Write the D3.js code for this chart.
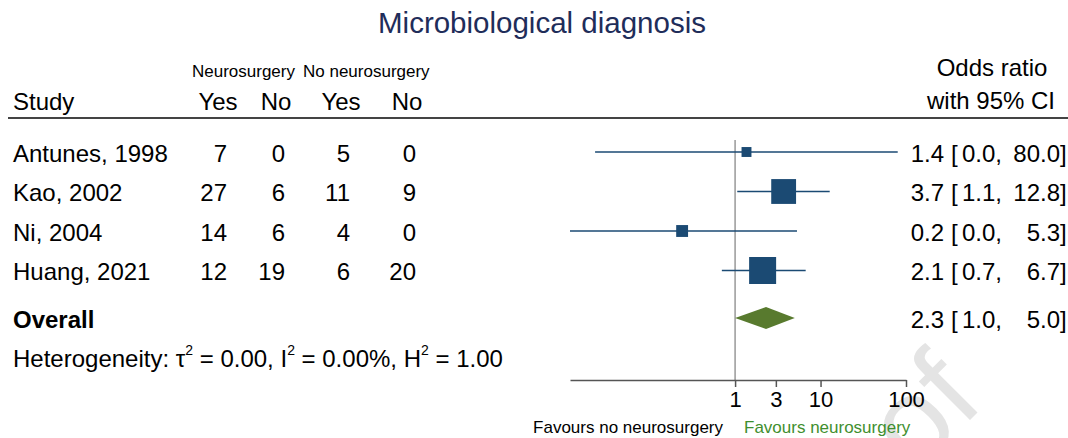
<!DOCTYPE html>
<html>
<head>
<meta charset="utf-8">
<script src="https://cdn.jsdelivr.net/npm/d3@7"></script>
<style>
  body { margin: 0; background: #fff; }
  svg { display: block; font-family: 'Liberation Sans', Arial, sans-serif; }
</style>
</head>
<body>
<svg></svg>
<script>
const width = 1068
const height = 438

// data
const studies = ['Antunes, 1998', 'Kao, 2002', 'Ni, 2004', 'Huang, 2021']
const neuroYes = [7, 27, 14, 12]
const neuroNo = [0, 6, 6, 19]
const noNeuroYes = [5, 11, 4, 6]
const noNeuroNo = [0, 9, 0, 20]
const oddsRatio = [1.36, 3.7, 0.24, 2.1]
const ciLow = [0.023, 1.06, 0.0117, 0.7]
const ciHigh = [80.0, 12.8, 5.3, 6.7]
const weights = [6.2, 38.9, 8.9, 46.0]
const overall = { or: 2.3, lo: 1.0, hi: 5.0 }
const axisTicks = [1, 3, 10, 100]

const navy = '#1b4a73'
const green = '#587a2e'
const fs = 24

const svg = d3.select('svg').attr('width', width).attr('height', height)

svg.append('rect').attr('width', width).attr('height', height).attr('fill', '#fff')

// watermark
svg
  .append('text')
  .attr('transform', 'translate(986,404) rotate(-45)')
  .attr('text-anchor', 'end')
  .attr('font-size', 120)
  .attr('fill', '#e4e4e4')
  .text('Proof')

const x = d3.scaleLog().domain([0.0117, 100]).range([570, 906])
const size = d3.scaleSqrt().domain([0, 46]).range([0, 27])
const rowY = d3.scaleLinear().domain([0, 1]).range([152, 191.5])
const textY = (i) => rowY(i) + 9.5

// title
svg
  .append('text')
  .attr('x', 542)
  .attr('y', 33)
  .attr('text-anchor', 'middle')
  .attr('font-size', 29.5)
  .attr('fill', '#1f2d5a')
  .text('Microbiological diagnosis')

// headers
svg.append('text').attr('x', 192).attr('y', 77).attr('font-size', 17).text('Neurosurgery')
svg.append('text').attr('x', 303).attr('y', 77).attr('font-size', 17).text('No neurosurgery')
svg.append('text').attr('x', 13).attr('y', 110).attr('font-size', fs).text('Study')

const colRight = [227, 285, 350, 416]
const colHead = ['Yes', 'No', 'Yes', 'No']
colHead.forEach((h, j) => {
  svg
    .append('text')
    .attr('x', colRight[j] - 9)
    .attr('y', 110)
    .attr('text-anchor', 'middle')
    .attr('font-size', fs)
    .text(h)
})

svg
  .append('text')
  .attr('x', 992)
  .attr('y', 76)
  .attr('text-anchor', 'middle')
  .attr('font-size', fs)
  .text('Odds ratio')
svg
  .append('text')
  .attr('x', 991)
  .attr('y', 109)
  .attr('text-anchor', 'middle')
  .attr('font-size', fs)
  .text('with 95% CI')

svg
  .append('line')
  .attr('x1', 8)
  .attr('x2', width)
  .attr('y1', 118)
  .attr('y2', 118)
  .attr('stroke', '#444')
  .attr('stroke-width', 2)

// reference line at OR = 1
svg
  .append('line')
  .attr('x1', x(1))
  .attr('x2', x(1))
  .attr('y1', 140)
  .attr('y2', 380)
  .attr('stroke', '#999')
  .attr('stroke-width', 1.5)

// study rows
const cols = [neuroYes, neuroNo, noNeuroYes, noNeuroNo]
const rows = svg
  .append('g')
  .selectAll('g')
  .data(studies)
  .join('g')

rows
  .append('text')
  .attr('x', 13)
  .attr('y', (d, i) => textY(i))
  .attr('font-size', fs)
  .text((d) => d)

cols.forEach((col, j) => {
  rows
    .append('text')
    .attr('x', colRight[j])
    .attr('y', (d, i) => textY(i))
    .attr('text-anchor', 'end')
    .attr('font-size', fs)
    .text((d, i) => col[i])
})

rows
  .append('line')
  .attr('x1', (d, i) => x(ciLow[i]))
  .attr('x2', (d, i) => x(ciHigh[i]))
  .attr('y1', (d, i) => rowY(i))
  .attr('y2', (d, i) => rowY(i))
  .attr('stroke', navy)
  .attr('stroke-width', 1.6)

rows
  .append('rect')
  .attr('x', (d, i) => x(oddsRatio[i]) - size(weights[i]) / 2)
  .attr('y', (d, i) => rowY(i) - size(weights[i]) / 2)
  .attr('width', (d, i) => size(weights[i]))
  .attr('height', (d, i) => size(weights[i]))
  .attr('fill', navy)

// right-hand OR [CI] column
function ciText(sel, or, lo, hi, y) {
  sel.append('text').attr('x', 944).attr('y', y).attr('text-anchor', 'end').attr('font-size', fs).text(or.toFixed(1))
  sel.append('text').attr('x', 951).attr('y', y).attr('font-size', fs).text('[')
  sel.append('text').attr('x', 962).attr('y', y).attr('font-size', fs).text(lo.toFixed(1) + ',')
  sel.append('text').attr('x', 1060).attr('y', y).attr('text-anchor', 'end').attr('font-size', fs).text(hi.toFixed(1))
  sel.append('text').attr('x', 1060).attr('y', y).attr('font-size', fs).text(']')
}
studies.forEach((s, i) => ciText(svg, oddsRatio[i], ciLow[i], ciHigh[i], textY(i)))

// overall
const overallY = 318
svg
  .append('text')
  .attr('x', 13)
  .attr('y', 328)
  .attr('font-size', fs)
  .attr('font-weight', 'bold')
  .text('Overall')

svg
  .append('path')
  .attr(
    'd',
    d3.line()([
      [x(overall.lo), overallY],
      [x(overall.or), overallY - 11],
      [x(overall.hi), overallY],
      [x(overall.or), overallY + 11],
    ]) + 'Z'
  )
  .attr('fill', green)

ciText(svg, overall.or, overall.lo, overall.hi, 328)

// heterogeneity
const het = svg.append('text').attr('x', 13).attr('y', 367).attr('font-size', fs)
het.append('tspan').text('Heterogeneity: τ')
het.append('tspan').attr('dy', -12).attr('font-size', 14).text('2')
het.append('tspan').attr('dy', 12).text(' = 0.00, I')
het.append('tspan').attr('dy', -12).attr('font-size', 14).text('2')
het.append('tspan').attr('dy', 12).text(' = 0.00%, H')
het.append('tspan').attr('dy', -12).attr('font-size', 14).text('2')
het.append('tspan').attr('dy', 12).text(' = 1.00')

// axis
const axis = svg
  .append('g')
  .attr('transform', 'translate(0,380)')
  .call(d3.axisBottom(x).tickValues(axisTicks).tickFormat(d3.format('d')).tickSize(7).tickSizeOuter(0))
axis.select('.domain').attr('stroke', '#555').attr('stroke-width', 1.5)
axis.selectAll('.tick line').attr('stroke', '#555').attr('stroke-width', 1.5)
axis
  .selectAll('.tick text')
  .attr('font-family', "'Liberation Sans', Arial, sans-serif")
  .attr('font-size', 22)
  .attr('fill', '#000')
  .attr('y', 11)

svg
  .append('text')
  .attr('x', 723)
  .attr('y', 433)
  .attr('text-anchor', 'end')
  .attr('font-size', 17)
  .text('Favours no neurosurgery')
svg
  .append('text')
  .attr('x', 744)
  .attr('y', 433)
  .attr('font-size', 17)
  .attr('fill', '#3f8f2f')
  .text('Favours neurosurgery')
</script>
</body>
</html>
